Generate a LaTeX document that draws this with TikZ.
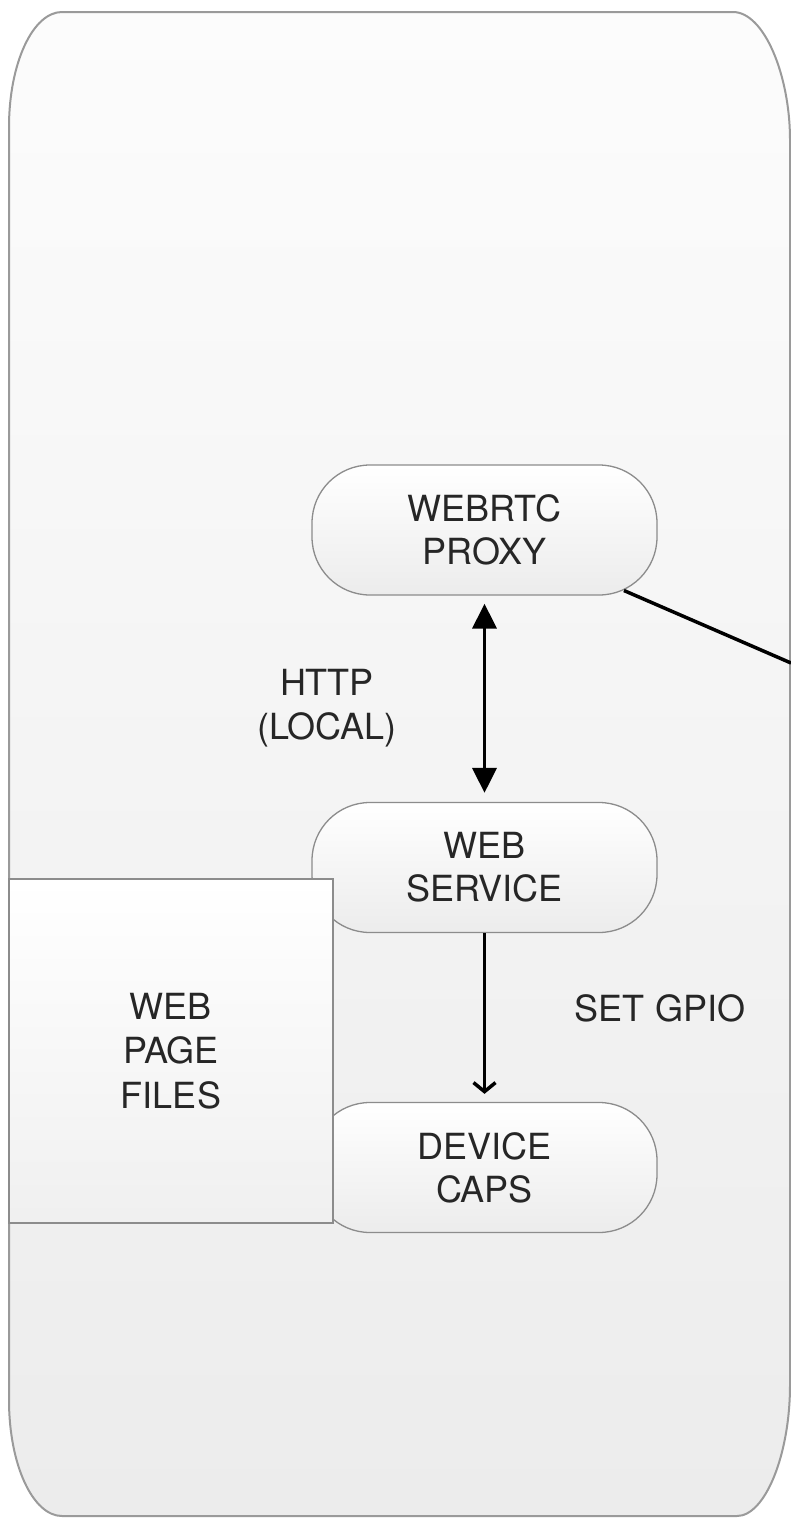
\documentclass[tikz,border=0pt]{standalone}
\usepackage{fontspec}
\setmainfont{TeX Gyre Heros}
\usetikzlibrary{arrows.meta}
\definecolor{bordergray}{HTML}{9A9A9A}
\definecolor{nodegray}{HTML}{8C8C8C}
\definecolor{topfill}{HTML}{FCFCFC}
\definecolor{botfill}{HTML}{ECECEC}
\tikzset{
  pill/.style={draw=nodegray, line width=1.3pt, rounded corners=58pt,
    minimum width=345pt, minimum height=130pt, top color=white, bottom color=botfill,
    align=center, font=\fontsize{36}{43}\selectfont, text=black!85, inner sep=0pt},
  filebox/.style={draw=nodegray, line width=1.3pt, top color=white, bottom color=botfill!80,
    align=center, font=\fontsize{36}{44.5}\selectfont, text=black!85, inner sep=0pt},
  lbl/.style={align=center, font=\fontsize{36}{44}\selectfont, text=black!85, inner sep=0pt},
  conn/.style={line width=3.5pt, black}
}
\begin{document}
\begin{tikzpicture}[x=1pt,y=-1pt]
\useasboundingbox (0,0) rectangle (791,1518);
% outer container
\path[draw=bordergray, line width=2pt, top color=topfill, bottom color=botfill]
  (9,127) .. controls (9,63) and (33,12) .. (62,12)
  -- (733,12) .. controls (764,12) and (790,75) .. (790,140)
  -- (790,1385) .. controls (790,1455) and (765,1516) .. (737,1516)
  -- (62,1516) .. controls (33,1516) and (9,1465) .. (9,1400) -- cycle;
% nodes
\node[pill] (proxy) at (484.5,530) {WEBRTC\\PROXY};
\node[pill] (web) at (484.5,867.5) {WEB\\SERVICE};
\node[pill] (caps) at (484.5,1167.5) {DEVICE\\CAPS};
\node[filebox, minimum width=324pt, minimum height=344pt] (files) at (171,1051) {WEB\\PAGE\\FILES};
% labels
\node[lbl] (http) at (327,708) {HTTP\\(LOCAL)};
\node[lbl] (gpio) at (660,1008) {SET GPIO};
% connectors
\coordinate (exit) at (791,663);
\draw[line width=3.5pt, black, shorten <=152pt] (proxy.center) -- (exit);
\draw[conn, {Triangle[length=25pt,width=24pt]}-{Triangle[length=25pt,width=24pt]}, shorten <=8pt, shorten >=9pt] (proxy.south) -- (web.north);
\draw[conn, -{Straight Barb[length=9pt,width=22pt]}, shorten >=8pt] (web.south) -- (caps.north);
\end{tikzpicture}
\end{document}
